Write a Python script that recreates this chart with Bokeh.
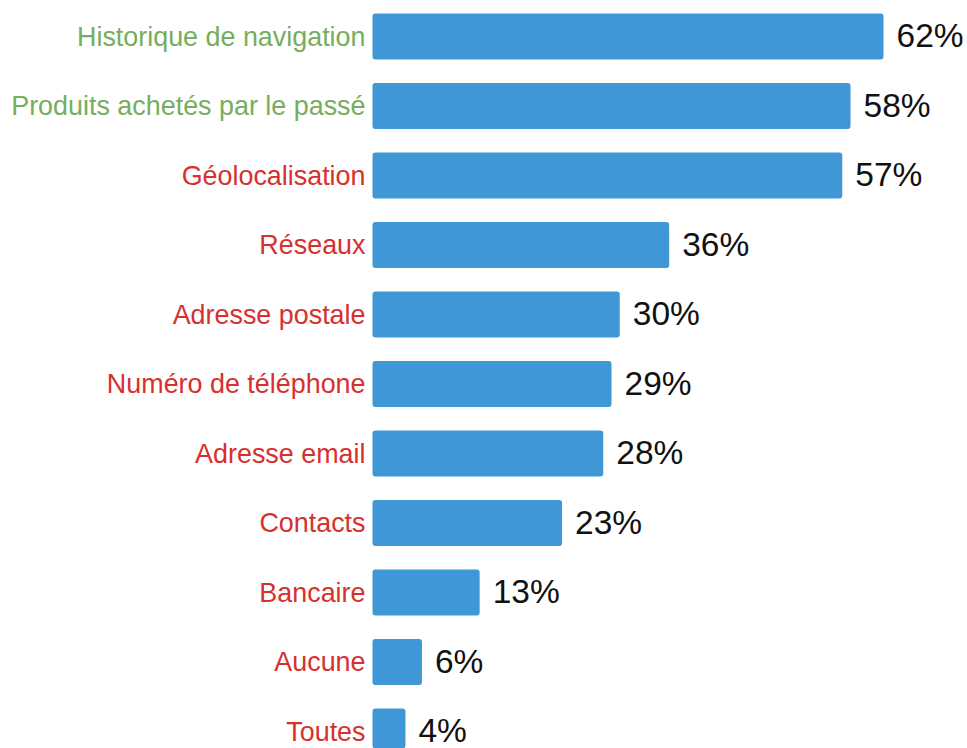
from bokeh.plotting import figure
from bokeh.models import ColumnDataSource, Range1d
from bokeh.core.properties import value
from bokeh.embed import file_html
from bokeh.resources import INLINE

categories = ["Historique de navigation", "Produits achetés par le passé", "Géolocalisation",
              "Réseaux", "Adresse postale", "Numéro de téléphone", "Adresse email",
              "Contacts", "Bancaire", "Aucune", "Toutes"]
values = [62, 58, 57, 36, 30, 29, 28, 23, 13, 6, 4]
label_colors = ["#77ad5e", "#77ad5e"] + ["#d7302e"] * 9

n = len(categories)
ypos = [n - 1 - i for i in range(n)]
src = ColumnDataSource(dict(
    cat=categories, val=values, y=ypos, lc=label_colors,
    zero=[0] * n, vlab=[f"{v}%" for v in values],
))

px_per = (883 - 372) / 62.0
W, H = 967, 748
x0 = 372
row = 69.5
p = figure(width=W, height=H, output_backend="svg", toolbar_location=None,
           x_range=Range1d(-x0 / px_per, (W - x0) / px_per),
           y_range=Range1d(-(H - 731) / row, n - 1 + 36 / row),
           min_border=0, min_border_left=0, min_border_right=0,
           min_border_top=0, min_border_bottom=0)
p.axis.visible = False
p.grid.visible = False
p.outline_line_color = None
p.background_fill_color = "white"

p.hbar(y="y", left=0, right="val", height=0.66, source=src,
       fill_color="#3f97d6", line_color=None, border_radius=3)

p.text(x="zero", y="y", text="cat", source=src, x_offset=-7,
       text_align="right", text_baseline="middle", text_color="lc",
       text_font=value("Liberation Sans"), text_font_size="26.9px")

p.text(x="val", y="y", text="vlab", source=src, x_offset=13, y_offset=-1,
       text_align="left", text_baseline="middle", text_color="#111111",
       text_font=value("Liberation Sans"), text_font_size="33.5px")

open("out.html", "w").write(file_html(p, INLINE))
